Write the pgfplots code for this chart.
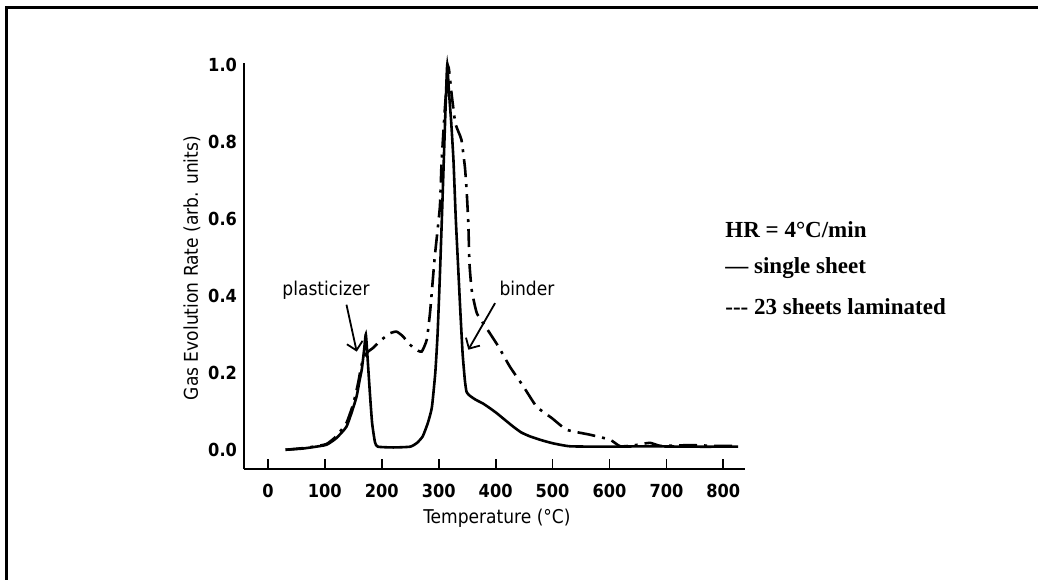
\documentclass[border=0pt]{standalone}
\usepackage{fontspec}
\usepackage{pgfplots}
\pgfplotsset{compat=1.18}
\usetikzlibrary{arrows.meta}
\newfontfamily\axfont{DejaVu Sans Condensed}
\newfontfamily\legfont{Liberation Serif}

\pgfplotstableread{
x y
31 0.0
60 0.003
80 0.007
103 0.013
120 0.03
138 0.06
150 0.11
156 0.14
161 0.18
165 0.21
169 0.26
172 0.30
175 0.24
179 0.15
183 0.07
188 0.02
193 0.008
220 0.006
250 0.008
262 0.018
272 0.035
281 0.07
288 0.11
294 0.2
298 0.3
302 0.45
306 0.62
310 0.8
313 0.93
315 1.0
318 0.93
322 0.85
326 0.75
330 0.6
334 0.48
338 0.36
342 0.25
346 0.18
349 0.15
355 0.14
365 0.13
378 0.12
390 0.108
402 0.095
416 0.078
431 0.06
445 0.045
460 0.035
478 0.026
500 0.017
531 0.009
600 0.008
665 0.009
740 0.008
826 0.008
}\single

\pgfplotstableread{
x y
31 0.0
60 0.004
80 0.008
103 0.015
120 0.035
138 0.07
150 0.12
158 0.17
163 0.21
168 0.24
176 0.255
185 0.265
195 0.28
203 0.29
215 0.303
226 0.307
237 0.295
247 0.277
258 0.262
270 0.255
279 0.286
285 0.36
293 0.5
302 0.63
305 0.745
311 0.89
317 0.995
323 0.92
329 0.85
335 0.825
340 0.805
346 0.735
349 0.675
352 0.59
354 0.485
358 0.415
367 0.355
384 0.316
405 0.268
425 0.216
449 0.164
472 0.112
499 0.082
525 0.052
566 0.039
601 0.026
619 0.009
645 0.012
671 0.018
690 0.01
740 0.012
790 0.01
826 0.01
}\laminated

\begin{document}
\begin{tikzpicture}
\useasboundingbox (-122pt,-55pt) rectangle (397pt,234.5pt);
% frame
\draw[line width=1.5pt] (-118.5pt,-56pt) -- (-118.5pt,230.5pt) -- (398pt,230.5pt);
\begin{axis}[
  at={(0,0)}, anchor=south west,
  scale only axis,
  width=250.5pt, height=203pt,
  xmin=-42, xmax=838,
  ymin=-0.05, ymax=1.005,
  axis lines=left,
  axis line style={-, line width=1.1pt},
  xtick={0,100,...,800},
  ytick={0,0.2,...,1.0},
  yticklabel style={/pgf/number format/fixed, /pgf/number format/fixed zerofill, /pgf/number format/precision=1},
  /pgf/number format/assume math mode=true,
  ticklabel style={font=\axfont\bfseries\fontsize{9}{10}\selectfont},
  xticklabel style={yshift=-4pt},
  xtick style={line width=0.9pt, black},
  major tick length=5pt,
  tick align=inside,
  ytick style={draw=none},
  xlabel={Temperature (°C)},
  ylabel={Gas Evolution Rate (arb. units)},
  label style={font=\axfont\fontsize{9.5}{11}\selectfont},
  xlabel style={at={(axis description cs:0.505,-0.121)}, anchor=center},
  ylabel style={at={(axis description cs:-0.104,0.495)}, anchor=center},
  clip=false,
]
\addplot[black, line width=1.3pt, smooth, tension=0.3] table[x=x,y=y] {\single};
\addplot[black, line width=1.3pt, smooth, tension=0.3, dash pattern=on 9pt off 3.5pt on 1.5pt off 3.5pt] table[x=x,y=y] {\laminated};
\node[font=\axfont\fontsize{9.5}{11}\selectfont] at (axis cs:102,0.415) {plasticizer};
\draw[line width=0.9pt, -{Straight Barb[length=4pt]}] (axis cs:138,0.377) -- (axis cs:156,0.255);
\node[font=\axfont\fontsize{9.5}{11}\selectfont] at (axis cs:455,0.418) {binder};
\draw[line width=0.9pt, -{Straight Barb[length=4pt]}] (axis cs:399,0.381) -- (axis cs:352,0.26);
\end{axis}
\node[anchor=west, font=\legfont\bfseries\fontsize{11.5}{13}\selectfont, inner sep=0pt] at (240.5pt,119.5pt) {HR = 4°C/min};
\node[anchor=west, font=\legfont\bfseries\fontsize{11.5}{13}\selectfont, inner sep=0pt] at (240.5pt,100.5pt) {— single sheet};
\node[anchor=west, font=\legfont\bfseries\fontsize{11.5}{13}\selectfont, inner sep=0pt] at (240.5pt,81pt) {-{}-{}- 23 sheets laminated};
\end{tikzpicture}
\end{document}
